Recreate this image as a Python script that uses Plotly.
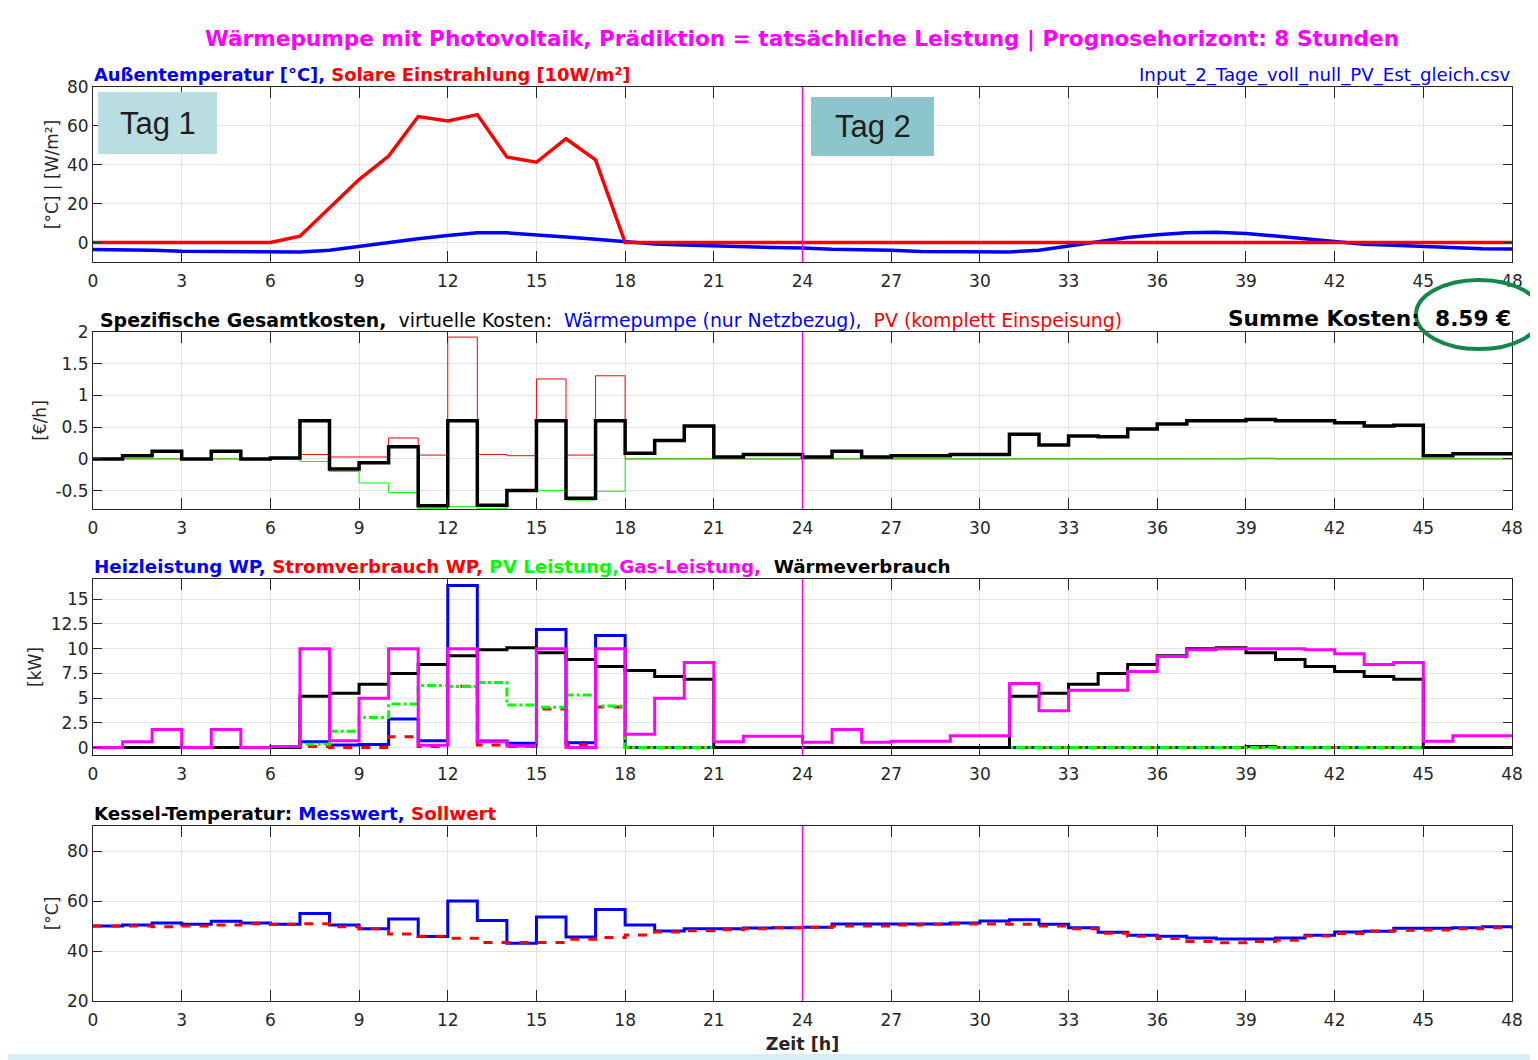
import plotly.graph_objects as go
from plotly.subplots import make_subplots

# ---------------- data ----------------
hours = list(range(49))
x_ticks = list(range(0, 49, 3))

# Panel 1 (hourly points, linear)
solar = [0, 0, 0, 0, 0, 0, 0, 3.3, 18, 32.4, 44.5, 64.8, 62.5, 65.8, 44, 41.3, 53.4, 42.5, 0,
         0, 0, 0, 0, 0, 0, 0, 0, 0, 0, 0, 0, 0, 0, 0, 0, 0, 0, 0, 0, 0, 0, 0, 0, 0, 0, 0, 0, 0, 0]
temp_out = [-3.6, -3.6, -4.0, -4.5, -4.6, -4.8, -4.8, -4.8, -4.0, -2.0, 0.2, 2.0, 3.6, 5.0, 5.0, 4.1, 2.9, 1.7, 0.3,
            -0.7, -1.2, -1.8, -2.2, -2.6, -2.8, -3.5, -3.7, -3.9, -4.6, -4.8, -4.8, -4.8, -4.0, -1.9, 0.6,
            2.6, 4.0, 5.0, 5.3, 4.6, 3.4, 2.1, 0.6, -0.9, -1.4, -2.0, -2.6, -3.2, -3.3]

# Panel 2 (hourly stairs, value for hour h..h+1)
cost_total = [0, 0.05, 0.12, 0, 0.12, 0, 0.015, 0.6, -0.16, -0.06, 0.19, -0.74, 0.6, -0.73, -0.5, 0.6,
              -0.62, 0.6, 0.09, 0.29, 0.52, 0.03, 0.07, 0.07,
              0.03, 0.12, 0.03, 0.05, 0.05, 0.07, 0.07, 0.39, 0.22, 0.36, 0.35, 0.47, 0.55, 0.6,
              0.6, 0.62, 0.6, 0.6, 0.57, 0.52, 0.53, 0.05, 0.08, 0.08]
cost_pv = [0, 0, 0, 0, 0, 0, 0, 0.07, 0.03, 0.03, 0.33, 0.06, 1.92, 0.07, 0.05, 1.26, 0.06, 1.31, 0,
           0, 0, 0, 0, 0, 0, 0, 0, 0, 0, 0, 0, 0, 0, 0, 0, 0, 0, 0, 0, 0.01, 0, 0, 0, 0, 0, 0, 0, 0]
cost_self = [0, 0, 0, 0, 0, 0, 0, -0.04, -0.2, -0.38, -0.53, -0.78, -0.75, -0.78, -0.51, -0.5, -0.65, -0.51, 0,
             0, 0, 0, 0, 0, 0, 0, 0, 0, 0, 0, 0, 0, 0, 0, 0, 0, 0, 0, 0, 0, 0, 0, 0, 0, 0, 0, 0, 0]

# Panel 3 (hourly stairs, kW)
heat_wp = [0, 0, 0, 0, 0, 0, 0, 0.6, 0.25, 0.3, 2.9, 0.68, 16.4, 0.66, 0.44, 11.95, 0.5, 11.33, 0,
           0, 0, 0, 0, 0, 0, 0, 0, 0, 0, 0, 0, 0, 0, 0, 0, 0, 0, 0, 0, 0.1, 0, 0, 0, 0, 0, 0, 0, 0]
power_wp = [0, 0, 0, 0, 0, 0, 0, 0.1, 0.02, 0.02, 1.1, 0.1, 6.2, 0.25, 0.1, 3.9, 0.3, 4.1, 0,
            0, 0, 0, 0, 0, 0, 0, 0, 0, 0, 0, 0, 0, 0, 0, 0, 0, 0, 0, 0, 0, 0, 0, 0, 0, 0, 0, 0, 0]
pv_power = [0, 0, 0, 0, 0, 0, 0, 0.34, 1.65, 3.05, 4.4, 6.28, 6.18, 6.58, 4.3, 4.07, 5.33, 4.2, 0,
            0, 0, 0, 0, 0, 0, 0, 0, 0, 0, 0, 0, 0, 0, 0, 0, 0, 0, 0, 0, 0, 0, 0, 0, 0, 0, 0, 0, 0]
gas_power = [0, 0.6, 1.83, 0, 1.83, 0, 0.1, 10, 0.68, 5, 10, 0.24, 10, 0.58, 0.17, 10, 0, 10, 1.36, 5, 8.6,
             0.58, 1.15, 1.15, 0.54, 1.83, 0.54, 0.64, 0.64, 1.19, 1.19, 6.48, 3.73, 5.8, 5.8, 7.7, 9.2, 9.9,
             10, 10, 10, 9.9, 9.5, 8.4, 8.6, 0.64, 1.19, 1.19]
heat_demand = [0, 0, 0, 0, 0, 0, 0, 5.2, 5.5, 6.4, 7.5, 8.4, 9.3, 9.9, 10.1, 9.6, 8.9, 8.2, 7.8, 7.2, 6.9,
               0, 0, 0, 0, 0, 0, 0, 0, 0, 0, 5.2, 5.5, 6.4, 7.5, 8.4, 9.3, 10, 10.1, 9.6, 8.9, 8.2, 7.7,
               7.2, 6.9, 0, 0, 0]

# Panel 4 (hourly stairs, °C)
tank_meas = [50, 50.4, 51.2, 50.7, 51.9, 51.2, 50.7, 55.0, 50.4, 48.9, 52.8, 45.8, 60, 52.2, 43.1, 53.6,
             45.6, 56.6, 50.4, 48, 48.9, 48.9, 49.2, 49.3, 49.5, 50.8, 50.8, 50.8, 50.8, 51.2, 52, 52.5,
             50.7, 49.3, 47.5, 46.3, 45.9, 45.2, 44.8, 44.8, 45.2, 46.3, 47.6, 47.9, 49.1, 49.1, 49.3, 49.7]
tank_set = [50, 50, 49.7, 50, 50.4, 50.9, 50.7, 50.9, 49.7, 48.9, 46.8, 45.9, 45.1, 43.4, 43.4, 43.4, 44.7,
            45.4, 46.4, 47.6, 48.1, 48.5, 48.9, 49.3, 49.5, 50, 50, 50.4, 50.7, 50.8, 50.8, 50.7, 50, 48.9,
            47.1, 45.9, 45, 43.8, 43.3, 43.8, 44.3, 46, 47, 48, 48.3, 48.4, 48.9, 49.3]

# y tick values / labels per panel
yticks_p1 = [0, 20, 40, 60, 80]
yticks_p2 = [-0.5, 0, 0.5, 1, 1.5, 2]
yticks_p3 = [0, 2.5, 5, 7.5, 10, 12.5, 15]
yticks_p4 = [20, 40, 60, 80]


def stairs(vals):
    return vals + [vals[-1]]


def fmt(v):
    return f"{v:g}"


BLUE, RED, GREEN, MAG = "#0000ff", "#ff0000", "#00ff00", "#ff00ff"
FONT = "DejaVu Sans, Liberation Sans, Arial, sans-serif"
FONT_TAG = "Liberation Sans, Arial, sans-serif"
OFF = 8                       # page body margin
W, H = 1538 - OFF, 1060 - OFF
L, R = 93 - OFF, 1512 - OFF   # plot area in figure px


def px_x(p):
    return (p - OFF - L) / (R - L)


def px_y(p):
    return 1 - (p - OFF) / H


fig = make_subplots(rows=4, cols=1)

# Panel 1
fig.add_trace(go.Scatter(x=hours, y=temp_out, mode="lines", line=dict(color=BLUE, width=3.5)), 1, 1)
fig.add_trace(go.Scatter(x=hours, y=solar, mode="lines", line=dict(color=RED, width=3.5)), 1, 1)

# Panel 2
fig.add_trace(go.Scatter(x=hours, y=stairs(cost_pv), mode="lines", line=dict(color=RED, width=1, shape="hv")), 2, 1)
fig.add_trace(go.Scatter(x=hours, y=stairs(cost_self), mode="lines", line=dict(color=GREEN, width=1, shape="hv")), 2, 1)
fig.add_trace(go.Scatter(x=hours, y=stairs(cost_total), mode="lines", line=dict(color="black", width=3.5, shape="hv")), 2, 1)

# Panel 3
fig.add_trace(go.Scatter(x=hours, y=stairs(heat_wp), mode="lines", line=dict(color=BLUE, width=3, shape="hv")), 3, 1)
fig.add_trace(go.Scatter(x=hours, y=stairs(power_wp), mode="lines", line=dict(color=RED, width=3, shape="hv", dash="dash")), 3, 1)
fig.add_trace(go.Scatter(x=hours, y=stairs(pv_power), mode="lines", line=dict(color=GREEN, width=3, shape="hv", dash="dashdot")), 3, 1)
fig.add_trace(go.Scatter(x=hours, y=stairs(heat_demand), mode="lines", line=dict(color="black", width=3, shape="hv")), 3, 1)
fig.add_trace(go.Scatter(x=hours, y=stairs(gas_power), mode="lines", line=dict(color=MAG, width=3, shape="hv")), 3, 1)

# Panel 4
fig.add_trace(go.Scatter(x=hours, y=stairs(tank_meas), mode="lines", line=dict(color=BLUE, width=3, shape="hv")), 4, 1)
fig.add_trace(go.Scatter(x=hours, y=stairs(tank_set), mode="lines", line=dict(color=RED, width=3, shape="hv", dash="dash")), 4, 1)

# Axes
domains = [
    (px_y(262), px_y(87)),
    (px_y(509), px_y(332)),
    (px_y(755), px_y(579)),
    (px_y(1001), px_y(826)),
]
yranges = [[-10, 80], [-0.79, 2], [-0.75, 17.05], [20, 90]]
yticks = [yticks_p1, yticks_p2, yticks_p3, yticks_p4]
ytitles = ["[°C] | [W/m²]", "[€/h]", "[kW]", "[°C]"]

axis_common = dict(
    showline=True, linecolor="#262626", linewidth=1, mirror="ticks",
    ticks="inside", tickcolor="#262626", tickwidth=1,
    showgrid=True, gridcolor="#e3e3e3", gridwidth=1, zeroline=False,
    tickfont=dict(family=FONT, size=17, color="#262626"),
)

for i in range(4):
    n = i + 1
    fig.update_xaxes(range=[0, 48], tickvals=x_ticks, ticklen=11, domain=[0, 1], ticklabelstandoff=4,
                     anchor=f"y{n}" if n > 1 else "y", **axis_common, row=n, col=1)
    fig.update_yaxes(range=yranges[i], tickvals=yticks[i], ticktext=[fmt(v) for v in yticks[i]],
                     ticklen=9, domain=list(domains[i]),
                     title=dict(text=ytitles[i], font=dict(family=FONT, size=17, color="#262626"), standoff=4),
                     **axis_common, row=n, col=1)

fig.update_xaxes(title=dict(text="<b>Zeit [h]</b>", font=dict(family=FONT, size=17.5, color="#262626"), standoff=8),
                 row=4, col=1)

# vertical day separator
shapes = []
for n in range(1, 5):
    xr = "x" if n == 1 else f"x{n}"
    yr = "y domain" if n == 1 else f"y{n} domain"
    shapes.append(dict(type="line", xref=xr, yref=yr, x0=24, x1=24, y0=0, y1=1,
                       line=dict(color=MAG, width=1.5)))

# Tag boxes
shapes.append(dict(type="rect", xref="paper", yref="paper", x0=px_x(98), x1=px_x(217),
                   y0=px_y(154), y1=px_y(92), fillcolor="#b9dde1", line=dict(width=0), layer="above"))
shapes.append(dict(type="rect", xref="paper", yref="paper", x0=px_x(811), x1=px_x(934),
                   y0=px_y(156), y1=px_y(97), fillcolor="#8cc6cc", line=dict(width=0), layer="above"))

# green ellipse around the total cost
shapes.append(dict(type="circle", xref="paper", yref="paper", x0=px_x(1416), x1=px_x(1542),
                   y0=px_y(349), y1=px_y(280), line=dict(color="#13874a", width=4), layer="above"))

# slide background edges
shapes.append(dict(type="rect", xref="paper", yref="paper", x0=px_x(0), x1=px_x(1540),
                   y0=px_y(1062), y1=px_y(1054), fillcolor="#d8eef6", line=dict(width=0), layer="below"))
shapes.append(dict(type="rect", xref="paper", yref="paper", x0=px_x(1530), x1=px_x(1540),
                   y0=px_y(1062), y1=px_y(0), fillcolor="#c9dbe6", line=dict(width=0), layer="below"))


def ann(text, x, y, size, xanchor="left", color="black", family=FONT):
    return dict(text=text, xref="paper", yref="paper", x=px_x(x), y=px_y(y), xanchor=xanchor,
                yanchor="middle", showarrow=False, font=dict(family=family, size=size, color=color))


annotations = [
    ann("<b>Wärmepumpe mit Photovoltaik, Prädiktion = tatsächliche Leistung | Prognosehorizont: 8 Stunden</b>",
        802, 39, 21.6, "center", MAG),
    ann(f"<b><span style='color:{BLUE}'>Außentemperatur [°C],</span> "
        f"<span style='color:{RED}'>Solare Einstrahlung [10W/m²]</span></b>", 92, 74, 17.9),
    ann("Input_2_Tage_voll_null_PV_Est_gleich.csv", 1513, 75, 18.2, "right", BLUE),
    ann("<b>Spezifische Gesamtkosten,</b>  virtuelle Kosten:  "
        f"<span style='color:{BLUE}'>Wärmepumpe (nur Netzbezug),</span>  "
        f"<span style='color:{RED}'>PV (komplett Einspeisung)</span>", 98, 320, 18.9),
    ann("<b>Summe Kosten:  8.59 €</b>", 1513, 318, 21.7, "right"),
    ann(f"<b><span style='color:{BLUE}'>Heizleistung WP,</span> "
        f"<span style='color:{RED}'>Stromverbrauch WP,</span> "
        f"<span style='color:{GREEN}'>PV Leistung,</span>"
        f"<span style='color:{MAG}'>Gas-Leistung,</span>  Wärmeverbrauch</b>", 92, 566, 18.3),
    ann(f"<b>Kessel-Temperatur: <span style='color:{BLUE}'>Messwert,</span> "
        f"<span style='color:{RED}'>Sollwert</span></b>", 92, 813, 18.3),
    ann("Tag 1", 157.5, 124, 31, "center", "#1e1e1e", FONT_TAG),
    ann("Tag 2", 872.5, 127, 31, "center", "#1e1e1e", FONT_TAG),
]

fig.update_layout(
    width=W, height=H,
    margin=dict(l=L, r=W - R, t=0, b=0, autoexpand=False),
    paper_bgcolor="white", plot_bgcolor="white",
    showlegend=False,
    shapes=shapes, annotations=annotations,
    font=dict(family=FONT, color="#262626"),
)

fig.write_html("out.html")
